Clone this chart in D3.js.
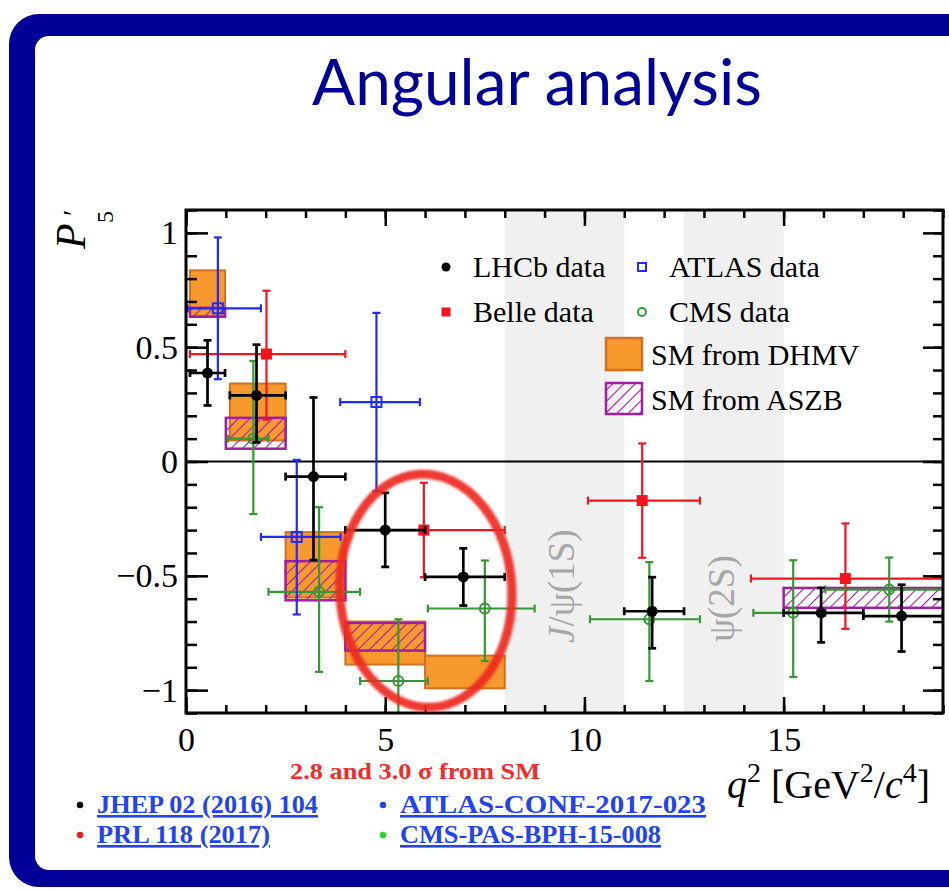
<!DOCTYPE html>
<html>
<head>
<meta charset="utf-8">
<title>Angular analysis</title>
<style>
  body { margin: 0; background: #fff; }
  svg text { font-family: "Liberation Serif", "DejaVu Serif", serif; }
</style>
</head>
<body>
<script src="https://d3js.org/d3.v7.min.js"></script>
<script>

// ---- data (q2 in GeV2/c4, value of P5') ----
var lhcbLo = [0.1, 1.1, 2.5, 4.0, 6.0, 11.0, 15.0, 17.0];
var lhcbHi = [0.98, 2.5, 4.0, 6.0, 8.0, 12.5, 17.0, 19.0];
var lhcbQ  = [0.54, 1.77, 3.2, 5.0, 6.96, 11.7, 15.94, 17.96];
var lhcbP5 = [0.387, 0.289, -0.066, -0.300, -0.505, -0.655, -0.662, -0.676];
var lhcbUp = [0.143, 0.222, 0.346, 0.163, 0.125, 0.149, 0.109, 0.137];
var lhcbDn = [0.142, 0.205, 0.365, 0.161, 0.125, 0.162, 0.129, 0.155];

var belleLo = [0.1, 4.0, 10.09, 14.18];
var belleHi = [4.0, 8.0, 12.9, 19.0];
var belleQ  = [2.02, 5.97, 11.45, 16.55];
var belleP5 = [0.47, -0.30, -0.171, -0.512];
var belleUp = [0.277, 0.207, 0.25, 0.241];
var belleDn = [0.287, 0.206, 0.25, 0.22];

var atlasLo = [0.04, 1.88, 3.87];
var atlasHi = [1.88, 3.88, 5.87];
var atlasQ  = [0.8, 2.78, 4.78];
var atlasP5 = [0.67, -0.33, 0.26];
var atlasUp = [0.31, 0.337, 0.39];
var atlasDn = [0.31, 0.339, 0.39];

var cmsLo = [1.05, 2.07, 4.37, 6.07, 10.14, 14.24, 16.05];
var cmsHi = [2.07, 4.37, 6.07, 8.75, 12.9, 16.05, 19.0];
var cmsQ  = [1.69, 3.34, 5.33, 7.5, 11.63, 15.24, 17.65];
var cmsP5 = [0.10, -0.57, -0.96, -0.643, -0.69, -0.662, -0.56];
var cmsUp = [0.34, 0.37, 0.27, 0.21, 0.25, 0.23, 0.14];
var cmsDn = [0.33, 0.35, 0.27, 0.23, 0.27, 0.28, 0.14];

var dhmvLo  = [0.1, 1.1, 2.5, 4.0, 6.0];
var dhmvHi  = [0.98, 2.5, 4.0, 6.0, 8.0];
var dhmvMin = [0.636, 0.092, -0.595, -0.888, -0.992];
var dhmvMax = [0.836, 0.341, -0.309, -0.70, -0.849];

var aszbLo  = [0.1, 1.0, 2.5, 4.0, 15.0];
var aszbHi  = [0.98, 2.5, 4.0, 6.0, 19.0];
var aszbMin = [0.633, 0.056, -0.607, -0.827, -0.640];
var aszbMax = [0.672, 0.191, -0.436, -0.706, -0.553];

var vetoLo = [8.0, 12.5];
var vetoHi = [11.0, 15.0];
var vetoLabels = ["J/ψ(1S)", "ψ(2S)"];

var xMajor = [0, 5, 10, 15];
var yMajor = [-1, -0.5, 0, 0.5, 1];

var legendLabels = ["LHCb data", "Belle data", "ATLAS data", "CMS data", "SM from DHMV", "SM from ASZB"];
var refLabels = ["JHEP 02 (2016) 104", "PRL 118 (2017)", "ATLAS-CONF-2017-023", "CMS-PAS-BPH-15-008"];
var refColors = ["#000000", "#f21a1a", "#2244ee", "#22dd22"];
var refWidths = [221, 173, 306, 261];   // rendered widths in the slide

var cLHCb = "#000000", cBelle = "#f5141e", cAtlas = "#1f2bff", cCms = "#349834";
var cOrange = "#f8992d", cOrangeEdge = "#d2701f", cPurple = "#a01ea4";

// ---- canvas ----
var W = 949, H = 891;
var svg = d3.select("body").append("svg").attr("width", W).attr("height", H);
svg.append("rect").attr("width", W).attr("height", H).attr("fill", "#fff");

// beamer frame
svg.append("rect").attr("x", 9).attr("y", 14).attr("width", 1000).attr("height", 873)
    .attr("rx", 30).attr("fill", "#000099");
svg.append("rect").attr("x", 35).attr("y", 36).attr("width", 1000).attr("height", 834)
    .attr("rx", 14).attr("fill", "#fff");

svg.append("text").attr("x", 537).attr("y", 105).attr("text-anchor", "middle")
    .style("font-family", "Lato, 'Open Sans', sans-serif").style("font-size", "64px")
    .attr("fill", "#000099").attr("textLength", 450).attr("lengthAdjust", "spacingAndGlyphs")
    .text("Angular analysis");

// ---- scales ----
var x = d3.scaleLinear().domain([0, 19]).range([186, 943]);
var y = d3.scaleLinear().domain([-1.1, 1.1]).range([713, 210]);

var defs = svg.append("defs");
defs.append("clipPath").attr("id", "plotclip").append("rect")
    .attr("x", x(0)).attr("y", y(1.1)).attr("width", x(19) - x(0)).attr("height", y(-1.1) - y(1.1));
var hatch = defs.append("pattern").attr("id", "hatch").attr("patternUnits", "userSpaceOnUse")
    .attr("width", 8).attr("height", 8).attr("patternTransform", "rotate(45)");
hatch.append("line").attr("x1", 0).attr("y1", 0).attr("x2", 0).attr("y2", 8)
    .attr("stroke", cPurple).attr("stroke-width", 2.2);
var blur = defs.append("filter").attr("id", "soft");
blur.append("feGaussianBlur").attr("stdDeviation", 0.9);

var plot = svg.append("g").attr("clip-path", "url(#plotclip)");

// veto bands
plot.selectAll("rect.veto").data(vetoLo).enter().append("rect").attr("class", "veto")
    .attr("x", function(d) { return x(d); })
    .attr("width", function(d, i) { return x(vetoHi[i]) - x(d); })
    .attr("y", y(1.1)).attr("height", y(-1.1) - y(1.1))
    .attr("fill", "#f0f0f0");

var bandTextQ = [9.74, 13.75];
plot.selectAll("text.veto").data(vetoLabels).enter().append("text").attr("class", "veto")
    .attr("transform", function(d, i) {
        return "translate(" + x(bandTextQ[i]) + "," + y(i === 0 ? -0.545 : -0.6) + ") rotate(-90)";
    })
    .attr("text-anchor", "middle").style("font-size", "37px").attr("fill", "#a6a6a6")
    .each(function(d) {
        var t = d3.select(this);
        if (d.charAt(0) === "J") {
            t.append("tspan").style("font-style", "italic").text("J");
            t.append("tspan").text(d.slice(1));
        } else {
            t.text(d);
        }
    });

// SM predictions
plot.selectAll("rect.dhmv").data(dhmvLo).enter().append("rect").attr("class", "dhmv")
    .attr("x", function(d) { return x(d); })
    .attr("width", function(d, i) { return x(dhmvHi[i]) - x(d); })
    .attr("y", function(d, i) { return y(dhmvMax[i]); })
    .attr("height", function(d, i) { return y(dhmvMin[i]) - y(dhmvMax[i]); })
    .attr("fill", cOrange).attr("stroke", cOrangeEdge).attr("stroke-width", 2);

plot.selectAll("rect.aszb").data(aszbLo).enter().append("rect").attr("class", "aszb")
    .attr("x", function(d) { return x(d); })
    .attr("width", function(d, i) { return x(aszbHi[i]) - x(d); })
    .attr("y", function(d, i) { return y(aszbMax[i]); })
    .attr("height", function(d, i) { return y(aszbMin[i]) - y(aszbMax[i]); })
    .attr("fill", "url(#hatch)").attr("stroke", cPurple).attr("stroke-width", 2.5);

// zero line
plot.append("line").attr("x1", x(0)).attr("x2", x(19)).attr("y1", y(0)).attr("y2", y(0))
    .attr("stroke", "#000").attr("stroke-width", 2);

// data series with error bars
function drawSeries(q, lo, hi, v, up, dn, color, marker, lw) {
    var g = plot.append("g").attr("stroke", color).attr("stroke-width", lw);
    var cap = 4;
    q.forEach(function(d, i) {
        var yc = y(v[i]), xc = x(d);
        g.append("line").attr("x1", x(lo[i])).attr("x2", x(hi[i])).attr("y1", yc).attr("y2", yc);
        g.append("line").attr("x1", x(lo[i])).attr("x2", x(lo[i])).attr("y1", yc - cap).attr("y2", yc + cap);
        g.append("line").attr("x1", x(hi[i])).attr("x2", x(hi[i])).attr("y1", yc - cap).attr("y2", yc + cap);
        g.append("line").attr("x1", xc).attr("x2", xc).attr("y1", y(v[i] + up[i])).attr("y2", y(v[i] - dn[i]));
        g.append("line").attr("x1", xc - cap).attr("x2", xc + cap).attr("y1", y(v[i] + up[i])).attr("y2", y(v[i] + up[i]));
        g.append("line").attr("x1", xc - cap).attr("x2", xc + cap).attr("y1", y(v[i] - dn[i])).attr("y2", y(v[i] - dn[i]));
    });
    var m = plot.append("g");
    q.forEach(function(d, i) { drawMarker(m, x(d), y(v[i]), color, marker, 5.5); });
}

function drawMarker(g, cx, cy, color, marker, r) {
    if (marker === "dot") {
        g.append("circle").attr("cx", cx).attr("cy", cy).attr("r", r).attr("fill", color);
    } else if (marker === "square") {
        g.append("rect").attr("x", cx - r).attr("y", cy - r).attr("width", 2 * r).attr("height", 2 * r).attr("fill", color);
    } else if (marker === "osquare") {
        g.append("rect").attr("x", cx - r + 0.5).attr("y", cy - r + 0.5).attr("width", 2 * r - 1).attr("height", 2 * r - 1)
            .attr("fill", "none").attr("stroke", color).attr("stroke-width", 2);
    } else {
        g.append("circle").attr("cx", cx).attr("cy", cy).attr("r", r - 0.5)
            .attr("fill", "none").attr("stroke", color).attr("stroke-width", 2);
    }
}

drawSeries(belleQ, belleLo, belleHi, belleP5, belleUp, belleDn, cBelle, "square", 2.2);
drawSeries(cmsQ, cmsLo, cmsHi, cmsP5, cmsUp, cmsDn, cCms, "ocircle", 2.2);
drawSeries(atlasQ, atlasLo, atlasHi, atlasP5, atlasUp, atlasDn, cAtlas, "osquare", 2.2);
drawSeries(lhcbQ, lhcbLo, lhcbHi, lhcbP5, lhcbUp, lhcbDn, cLHCb, "dot", 2.7);

// ---- axes (ticks inside, ROOT style) ----
function styleAxis(g) {
    g.select(".domain").remove();
    g.selectAll(".tick line").attr("stroke", "#000").attr("stroke-width", 2.5);
    g.selectAll(".tick text").style("font-family", "'Liberation Serif', serif").style("font-size", "34px").attr("fill", "#000");
}
var xMinorVals = d3.range(0, 20);
var yMinorVals = d3.range(-11, 12).map(function(d) { return d / 10; });

svg.append("g").attr("transform", "translate(0," + y(-1.1) + ")")
    .call(d3.axisBottom(x).tickValues(xMinorVals).tickSize(-8).tickFormat("")).call(styleAxis);
svg.append("g").attr("transform", "translate(0," + y(-1.1) + ")")
    .call(d3.axisBottom(x).tickValues(xMajor).tickSize(-16).tickPadding(14).tickFormat(d3.format("d"))).call(styleAxis);
svg.append("g").attr("transform", "translate(0," + y(1.1) + ")")
    .call(d3.axisTop(x).tickValues(xMinorVals).tickSize(-8).tickFormat("")).call(styleAxis);
svg.append("g").attr("transform", "translate(0," + y(1.1) + ")")
    .call(d3.axisTop(x).tickValues(xMajor).tickSize(-16).tickFormat("")).call(styleAxis);

svg.append("g").attr("transform", "translate(" + x(0) + ",0)")
    .call(d3.axisLeft(y).tickValues(yMinorVals).tickSize(-11).tickFormat("")).call(styleAxis);
svg.append("g").attr("transform", "translate(" + x(0) + ",0)")
    .call(d3.axisLeft(y).tickValues(yMajor).tickSize(-22).tickPadding(8).tickFormat(d3.format("~g"))).call(styleAxis);
svg.append("g").attr("transform", "translate(" + x(19) + ",0)")
    .call(d3.axisRight(y).tickValues(yMinorVals).tickSize(-10).tickFormat("")).call(styleAxis);
svg.append("g").attr("transform", "translate(" + x(19) + ",0)")
    .call(d3.axisRight(y).tickValues(yMajor).tickSize(-20).tickFormat("")).call(styleAxis);

svg.append("rect").attr("x", x(0)).attr("y", y(1.1)).attr("width", x(19) - x(0)).attr("height", y(-1.1) - y(1.1))
    .attr("fill", "none").attr("stroke", "#000").attr("stroke-width", 3);

// axis titles
var yt = svg.append("g").attr("transform", "translate(85,249) rotate(-90)");
yt.append("text").attr("x", 0).attr("y", 0).style("font-size", "42px").style("font-style", "italic").text("P");
yt.append("text").attr("x", 33).attr("y", -2).style("font-size", "30px").text("′");
yt.append("text").attr("x", 26).attr("y", 28).style("font-size", "24px").text("5");

var xt = svg.append("text").attr("x", 727).attr("y", 798).style("font-size", "40px");
xt.append("tspan").style("font-style", "italic").text("q");
xt.append("tspan").attr("dy", -16).style("font-size", "28px").text("2");
xt.append("tspan").attr("dy", 16).text(" [GeV");
xt.append("tspan").attr("dy", -16).style("font-size", "28px").text("2");
xt.append("tspan").attr("dy", 16).text("/");
xt.append("tspan").style("font-style", "italic").text("c");
xt.append("tspan").attr("dy", -16).style("font-size", "28px").text("4");
xt.append("tspan").attr("dy", 16).text("]");

// ---- legend ----
var lg = svg.append("g").style("font-size", "30px");
var legMarks = [["dot", cLHCb], ["square", cBelle], ["osquare", cAtlas], ["ocircle", cCms]];
legMarks.forEach(function(m, i) {
    var col = Math.floor(i / 2), row = i % 2;
    var mx = col === 0 ? 446 : 642, my = 267 + row * 45;
    drawMarker(lg, mx, my, m[1], m[0], 4.5);
    lg.append("text").attr("x", mx + 27).attr("y", my + 10).text(legendLabels[i]);
});
lg.append("rect").attr("x", 606).attr("y", 338).attr("width", 36).attr("height", 32)
    .attr("fill", cOrange).attr("stroke", cOrangeEdge).attr("stroke-width", 2.5);
lg.append("text").attr("x", 651).attr("y", 365).text(legendLabels[4]);
lg.append("rect").attr("x", 606).attr("y", 383).attr("width", 36).attr("height", 31)
    .attr("fill", "url(#hatch)").attr("stroke", cPurple).attr("stroke-width", 2.5);
lg.append("text").attr("x", 651).attr("y", 410).text(legendLabels[5]);

// ---- annotation ----
var ec = [6.02, -0.565], er = [2.16, 0.51];
svg.append("ellipse")
    .attr("cx", x(ec[0])).attr("cy", y(ec[1]))
    .attr("rx", x(ec[0] + er[0]) - x(ec[0])).attr("ry", y(ec[1] - er[1]) - y(ec[1]))
    .attr("transform", "rotate(-3," + x(ec[0]) + "," + y(ec[1]) + ")")
    .attr("fill", "none").attr("stroke", "#ee2a22").attr("stroke-width", 9).attr("opacity", 0.92)
    .attr("filter", "url(#soft)");

svg.append("text").attr("x", 415).attr("y", 779).attr("text-anchor", "middle")
    .style("font-size", "24px").style("font-weight", "bold").attr("fill", "#f52a2a")
    .attr("textLength", 250).attr("lengthAdjust", "spacingAndGlyphs")
    .text("2.8 and 3.0 σ from SM");

// references
var rg = svg.append("g");
refLabels.forEach(function(d, i) {
    var col = Math.floor(i / 2), row = i % 2;
    var bx = col === 0 ? 80 : 383, by = 813 + row * 30;
    rg.append("circle").attr("cx", bx).attr("cy", by - 8).attr("r", 3.2).attr("fill", refColors[i]);
    rg.append("text").attr("x", bx + 17).attr("y", by)
        .style("font-size", "26px").style("font-weight", "bold").attr("fill", "#2244ee")
        .attr("textLength", refWidths[i]).attr("lengthAdjust", "spacingAndGlyphs")
        .attr("text-decoration", "underline").text(d);
});

</script>
</body>
</html>
